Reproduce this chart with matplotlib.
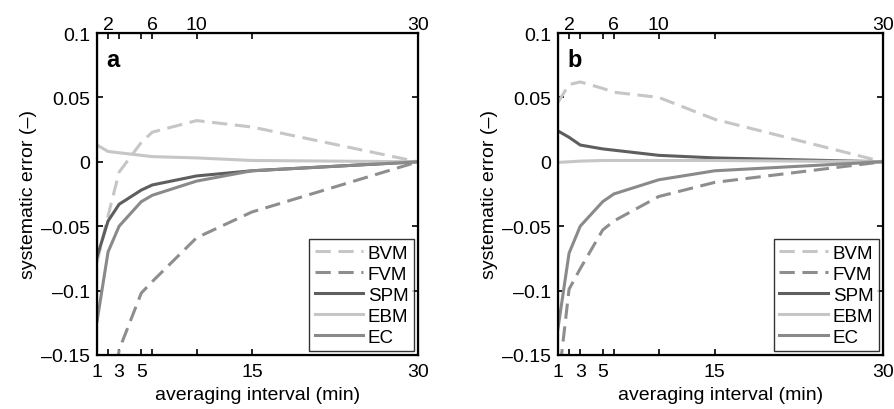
import matplotlib
matplotlib.use('Agg')
import matplotlib.pyplot as plt
from matplotlib.ticker import FixedLocator, FixedFormatter

plt.rcParams['font.family'] = ['Liberation Sans', 'DejaVu Sans']
plt.rcParams['axes.unicode_minus'] = False

# averaging intervals (min)
intervals = [1, 2, 3, 5, 6, 10, 15, 30]

# panel a
a_bvm = [-0.078, -0.042, -0.008, 0.015, 0.023, 0.032, 0.027, 0.0]
a_fvm = [-0.30, -0.21, -0.146, -0.102, -0.093, -0.059, -0.039, 0.0]
a_spm = [-0.074, -0.046, -0.033, -0.022, -0.018, -0.011, -0.007, 0.0]
a_ebm = [0.013, 0.008, 0.007, 0.005, 0.004, 0.003, 0.001, 0.0]
a_ec = [-0.124, -0.070, -0.050, -0.031, -0.026, -0.015, -0.007, 0.0]

# panel b
b_bvm = [0.046, 0.060, 0.062, 0.057, 0.054, 0.050, 0.033, 0.0]
b_fvm = [-0.175, -0.099, -0.083, -0.053, -0.046, -0.027, -0.016, 0.0]
b_spm = [0.024, 0.019, 0.013, 0.010, 0.009, 0.005, 0.003, 0.0]
b_ebm = [-0.0005, 0.0, 0.0005, 0.001, 0.001, 0.001, 0.001, 0.0]
b_ec = [-0.13, -0.071, -0.050, -0.031, -0.025, -0.014, -0.007, 0.0]

bottom_labels = ['1', '', '3', '5', '', '', '15', '30']
top_labels = ['', '2', '', '', '6', '10', '', '30']
yticks = [-0.15, -0.1, -0.05, 0, 0.05, 0.1]
ytick_labels = ['\u20130.15', '\u20130.1', '\u20130.05', '0', '0.05', '0.1']

names = ['BVM', 'FVM', 'SPM', 'EBM', 'EC']
colors = ['#c6c6c6', '#8e8e8e', '#5e5e5e', '#c6c6c6', '#8a8a8a']
styles = [(0, (5, 2.5)), (0, (5, 2.5)), '-', '-', '-']

fig = plt.figure(figsize=(8.94, 4.10), dpi=100)
ax_a = fig.add_axes([0.1085, 0.132, 0.359, 0.785])
ax_b = fig.add_axes([0.624, 0.132, 0.3635, 0.785])


def draw_panel(ax, series, letter):
    for vals, name, c, ls in zip(series, names, colors, styles):
        ax.plot(intervals, vals, color=c, linestyle=ls, linewidth=2.2, label=name)
    ax.set_xlim(1, 30)
    ax.set_ylim(-0.15, 0.1)
    ax.xaxis.set_major_locator(FixedLocator(intervals))
    ax.xaxis.set_major_formatter(FixedFormatter(bottom_labels))
    ax.set_yticks(yticks)
    ax.set_yticklabels(ytick_labels)
    ax.tick_params(direction='in', length=4, width=1.2, labelsize=14, right=True)
    ax.tick_params(axis='x', pad=6)
    ax.tick_params(axis='y', pad=5)
    for s in ax.spines.values():
        s.set_linewidth(1.6)
    ax.set_xlabel('averaging interval (min)', fontsize=14, labelpad=4)
    ax.set_ylabel('systematic error (\u2013)', fontsize=14, labelpad=3)
    ax.text(0.03, 0.955, letter, transform=ax.transAxes, fontsize=17,
            fontweight='bold', va='top', ha='left')
    leg = ax.legend(loc='lower right', fontsize=13.5, frameon=True, fancybox=False,
                    edgecolor='black', handlelength=2.6, handletextpad=0.25,
                    labelspacing=0.2, borderpad=0.3, borderaxespad=0.2)
    leg.get_frame().set_linewidth(1.0)
    top = ax.twiny()
    top.set_xlim(1, 30)
    top.xaxis.set_major_locator(FixedLocator(intervals))
    top.xaxis.set_major_formatter(FixedFormatter(top_labels))
    top.tick_params(direction='in', length=4, width=1.2, labelsize=14, pad=0)


draw_panel(ax_a, [a_bvm, a_fvm, a_spm, a_ebm, a_ec], 'a')
draw_panel(ax_b, [b_bvm, b_fvm, b_spm, b_ebm, b_ec], 'b')

fig.savefig('out.png', dpi=100)
